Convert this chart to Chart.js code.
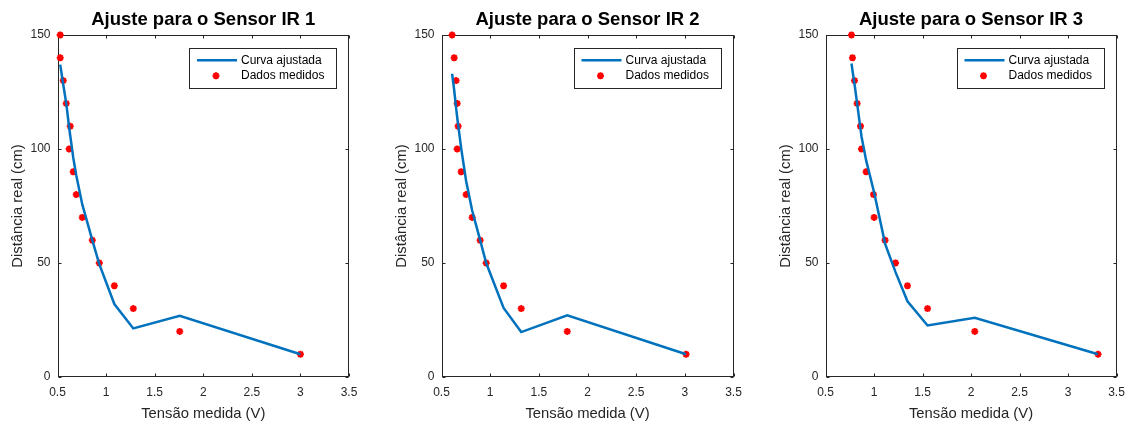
<!DOCTYPE html>
<html>
<head>
<meta charset="utf-8">
<script src="https://cdn.jsdelivr.net/npm/chart.js@4"></script>
<style>
  body { margin: 0; background: #fff; }
  #fig { position: relative; width: 1139px; height: 423px; }
  #fig canvas { position: absolute; left: 0; top: 0; }
</style>
</head>
<body>
<div id="fig">
  <canvas id="g1" width="1139" height="423"></canvas>
  <canvas id="g2" width="1139" height="423"></canvas>
  <canvas id="g3" width="1139" height="423"></canvas>
</div>
<script>
// distancias reais (cm) - iguais nos tres sensores
const distancia = [150, 140, 130, 120, 110, 100, 90, 80, 70, 60, 50, 40, 30, 20, 10];

const tensao1 = [0.528, 0.528, 0.559, 0.59, 0.631, 0.62, 0.662, 0.693, 0.755, 0.858, 0.93, 1.085, 1.28, 1.758, 3.0];
const tensao2 = [0.609, 0.63, 0.65, 0.661, 0.671, 0.661, 0.702, 0.753, 0.815, 0.897, 0.959, 1.138, 1.319, 1.792, 3.013];
const tensao3 = [0.768, 0.778, 0.799, 0.826, 0.861, 0.871, 0.919, 0.995, 1.001, 1.114, 1.222, 1.345, 1.552, 2.039, 3.31];

// curva ajustada avaliada nas tensoes medidas
const ajuste1 = [137, 137, 128.3, 120, 105.6, 109.4, 96.2, 88.5, 75.7, 60, 49.5, 32, 21.3, 26.8, 10];
const ajuste2 = [133, 126, 118, 114, 110.4, 114, 100.4, 86, 73, 60, 50, 30.3, 19.7, 27.1, 10];
const ajuste3 = [137.5, 134.5, 128.5, 120, 108.7, 105.5, 95, 82, 81, 58.5, 46, 33.2, 22.6, 26, 10];

const xTicks = [0.5, 1, 1.5, 2, 2.5, 3, 3.5];
const yTicks = [0, 50, 100, 150];

const fonte = "'Liberation Sans', Arial, Helvetica, sans-serif";
const cinza = "#262626";
const azul = "#0072BD";
const vermelho = "#FF0000";

function desenhaEstrela(ctx, x, y) {
  ctx.save();
  ctx.strokeStyle = vermelho;
  ctx.fillStyle = vermelho;
  ctx.lineWidth = 2;
  Chart.helpers.drawPoint(ctx, { pointStyle: "star", radius: 3.5, rotation: 0, borderWidth: 2 }, x, y);
  ctx.restore();
}

// caixa, ticks para dentro, titulo e legenda estilo matlab
const moldura = {
  id: "moldura",
  beforeDatasetsDraw(chart) {
    const { ctx, chartArea: a, scales } = chart;
    ctx.save();
    ctx.strokeStyle = cinza;
    ctx.lineWidth = 1;
    const l = Math.round(a.left) + 0.5, r = Math.round(a.right) - 0.5;
    const t = Math.round(a.top) + 0.5, b = Math.round(a.bottom) - 0.5;
    ctx.strokeRect(l, t, r - l, b - t);
    ctx.beginPath();
    xTicks.forEach(v => {
      const px = Math.round(scales.x.getPixelForValue(v)) + 0.5;
      ctx.moveTo(px, b); ctx.lineTo(px, b - 3);
      ctx.moveTo(px, t); ctx.lineTo(px, t + 3);
    });
    yTicks.forEach(v => {
      const py = Math.round(scales.y.getPixelForValue(v)) + 0.5;
      ctx.moveTo(l, py); ctx.lineTo(l + 3, py);
      ctx.moveTo(r, py); ctx.lineTo(r - 3, py);
    });
    ctx.stroke();
    ctx.restore();
  },
  afterDraw(chart, args, opts) {
    const { ctx, chartArea: a } = chart;
    ctx.save();
    // titulo
    ctx.fillStyle = "#000";
    ctx.font = "bold 18.5px " + fonte;
    ctx.textAlign = "center";
    ctx.textBaseline = "middle";
    ctx.fillText(opts.titulo, (a.left + a.right) / 2, 20);

    // legenda
    const R = a.right, T = a.top;
    const bx = Math.round(R - 160) + 0.5, by = Math.round(T + 13) + 0.5;
    ctx.fillStyle = "#fff";
    ctx.fillRect(bx, by, 147, 40);
    ctx.strokeStyle = cinza;
    ctx.lineWidth = 1;
    ctx.strokeRect(bx, by, 147, 40);

    ctx.strokeStyle = azul;
    ctx.lineWidth = 2.5;
    ctx.beginPath();
    ctx.moveTo(R - 152, T + 25.3);
    ctx.lineTo(R - 112, T + 25.3);
    ctx.stroke();

    desenhaEstrela(ctx, R - 133, T + 40.7);

    ctx.fillStyle = "#000";
    ctx.font = "12px " + fonte;
    ctx.textAlign = "left";
    ctx.textBaseline = "middle";
    ctx.fillText("Curva ajustada", R - 108, T + 25.3);
    ctx.fillText("Dados medidos", R - 108, T + 40.7);
    ctx.restore();
  }
};

function montaGrafico(id, tensao, ajuste, titulo, esq, dir) {
  const pontosAjuste = tensao.map((v, i) => ({ x: v, y: ajuste[i] }));
  const pontosMedidos = tensao.map((v, i) => ({ x: v, y: distancia[i] }));

  return new Chart(document.getElementById(id), {
    type: "scatter",
    data: {
      datasets: [
        {
          label: "Curva ajustada",
          data: pontosAjuste,
          showLine: true,
          borderColor: azul,
          backgroundColor: azul,
          borderWidth: 2.5,
          pointRadius: 0,
          tension: 0,
          clip: false
        },
        {
          label: "Dados medidos",
          data: pontosMedidos,
          showLine: false,
          pointStyle: "star",
          pointRadius: 3.5,
          borderWidth: 2,
          borderColor: vermelho,
          backgroundColor: vermelho,
          clip: false
        }
      ]
    },
    options: {
      responsive: false,
      animation: false,
      devicePixelRatio: 1,
      layout: { padding: { left: esq - 48, right: 1139 - dir, top: 35, bottom: 0 } },
      plugins: {
        legend: { display: false },
        title: { display: false },
        tooltip: { enabled: false },
        moldura: { titulo: titulo }
      },
      scales: {
        x: {
          type: "linear",
          min: 0.5,
          max: 3.5,
          afterBuildTicks: s => { s.ticks = xTicks.map(v => ({ value: v })); },
          afterFit: s => { s.height = 423 - 377; },
          grid: { display: false, drawTicks: false },
          border: { display: false },
          ticks: {
            color: cinza, font: { family: fonte, size: 12 }, padding: 8,
            autoSkip: false, maxRotation: 0, callback: v => String(v)
          },
          title: { display: true, text: "Tensão medida (V)", color: cinza, font: { family: fonte, size: 14.8 }, padding: { top: 0, bottom: 0 } }
        },
        y: {
          type: "linear",
          min: 0,
          max: 150,
          afterBuildTicks: s => { s.ticks = yTicks.map(v => ({ value: v })); },
          afterFit: s => { s.width = 48; },
          grid: { display: false, drawTicks: false },
          border: { display: false },
          ticks: { color: cinza, font: { family: fonte, size: 12 }, padding: 7, callback: v => String(v) },
          title: { display: true, text: "Distância real (cm)", color: cinza, font: { family: fonte, size: 14.8 }, padding: { top: 0, bottom: 0 } }
        }
      }
    },
    plugins: [moldura]
  });
}

montaGrafico("g1", tensao1, ajuste1, "Ajuste para o Sensor IR 1", 57.5, 349);
montaGrafico("g2", tensao2, ajuste2, "Ajuste para o Sensor IR 2", 441.5, 733.5);
montaGrafico("g3", tensao3, ajuste3, "Ajuste para o Sensor IR 3", 825.5, 1116.5);
</script>
</body>
</html>
